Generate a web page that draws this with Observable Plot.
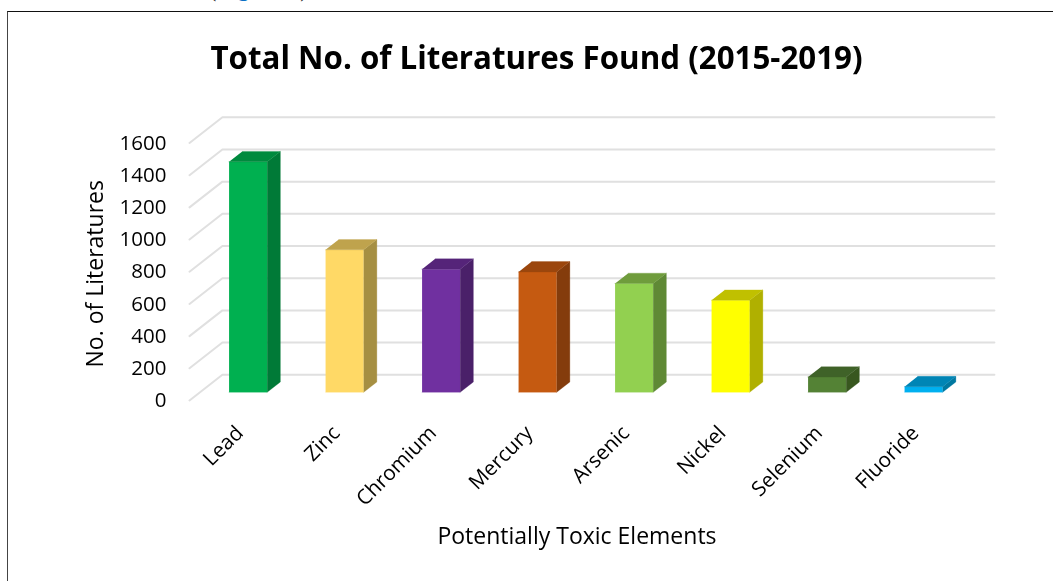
<!DOCTYPE html>
<html>
<head>
<meta charset="utf-8">
<script src="https://cdn.jsdelivr.net/npm/d3@7"></script>
<script src="https://cdn.jsdelivr.net/npm/@observablehq/plot@0.6"></script>
<style>
  html, body { margin: 0; padding: 0; background: #fff; width: 1053px; height: 581px; overflow: hidden; }
  #page { position: relative; width: 1053px; height: 581px; overflow: hidden; font-family: "Open Sans", sans-serif; color: #000; }
  #frame { position: absolute; left: 7px; top: 11px; width: 1100px; height: 700px; border-left: 1.5px solid #444; border-top: 1.5px solid #111; }
  .clipped { position: absolute; top: -27px; height: 30px; font: 25px/30px "Liberation Serif", serif; white-space: pre; color: #222; }
  .clipped span { color: #0b6fc4; }
  #title { position: relative; height: 88px; box-sizing: border-box; font: 700 31.3px/40px "Open Sans", sans-serif; text-align: center; width: 1073px; padding-top: 37px; white-space: nowrap; filter: blur(0.3px); }
  #caption { position: relative; height: 68px; line-height: 44px; font-size: 23px; text-align: center; width: 1154px; filter: blur(0.3px); }
  svg { display: block; position: relative; filter: blur(0.4px); }
</style>
</head>
<body>
<div id="page">
  <div id="frame"></div>
  <div class="clipped" style="left:44px">,</div>
  <div class="clipped" style="left:208px">(<span>Figure</span> 1)</div>
  <div id="title"></div>
  <div id="chart"></div>
  <div id="caption"></div>
</div>
<script>
const chartTitle = "Total No. of Literatures Found (2015-2019)";
const xTitle = "Potentially Toxic Elements";
const yTitle = "No. of Literatures";
const categories = ["Lead", "Zinc", "Chromium", "Mercury", "Arsenic", "Nickel", "Selenium", "Fluoride"];
const values = [1432, 885, 765, 748, 676, 572, 95, 35];
const yTicks = [0, 200, 400, 600, 800, 1000, 1200, 1400, 1600];
const frontColors = ["#00b050", "#ffd966", "#7030a0", "#c55a11", "#92d050", "#ffff00", "#548235", "#00b0f0"];
const sideColors = ["#007a37", "#a68f42", "#4a2069", "#843c0c", "#5f8935", "#b0b000", "#38571f", "#0078a0"];
const topColors = ["#008a3e", "#bfa34d", "#552479", "#9b460d", "#6f9c3c", "#c0c000", "#3f6228", "#0085b5"];

// Oblique projection of the 3D column chart, in data units
const depthX = 0.341;   // category slots per unit of depth
const depthY = 160;     // value units per unit of depth
const gapX = 0.301, barW = 0.395, zFront = 0.32, zBack = 0.72;
const pt = (slot, value, z) => ({x: slot + depthX * z, y: value + depthY * z});

const faces = [];
categories.forEach((c, i) => {
  const l = i + gapX, r = l + barW, v = values[i];
  const poly = (kind, color, corners) =>
    corners.forEach(([s, w, z]) => faces.push({id: c + kind, color, ...pt(s, w, z)}));
  poly("front", frontColors[i], [[l, 0, zFront], [r, 0, zFront], [r, v, zFront], [l, v, zFront]]);
  poly("side", sideColors[i], [[r, 0, zFront], [r, 0, zBack], [r, v, zBack], [r, v, zFront]]);
  poly("top", topColors[i], [[l, v, zFront], [r, v, zFront], [r, v, zBack], [l, v, zBack]]);
});

const grid = yTicks.flatMap(t => [
  {t, ...pt(0, t, 0)},
  {t, ...pt(0, t, 1)},
  {t, ...pt(categories.length, t, 1)}
]);

const labels = categories.map((name, i) => ({name, x: i + 0.5}));

document.getElementById("title").textContent = chartTitle;
document.getElementById("caption").textContent = xTitle;

const plot = Plot.plot({
  width: 1053,
  height: 425,
  marginLeft: 189,
  marginRight: 92,
  marginTop: 54.5,
  marginBottom: 113,
  style: {background: "transparent", fontFamily: "'Open Sans', sans-serif", overflow: "visible", color: "#000"},
  x: {domain: [0, categories.length], axis: null},
  y: {domain: [0, 1600]},
  color: {type: "identity"},
  marks: [
    Plot.line(grid, {x: "x", y: "y", z: "t", stroke: "#e0e0e0", strokeWidth: 2}),
    Plot.line(faces, {x: "x", y: "y", z: "id", fill: "color", stroke: "color", strokeWidth: 0.3}),
    Plot.axisY({
      ticks: yTicks, tickSize: 0, tickPadding: 23, fontSize: 20.5, color: "#000",
      tickFormat: "d", label: null
    }),
    Plot.text([yTitle], {
      frameAnchor: "left", textAnchor: "middle", text: d => d, rotate: -90, dx: -94, dy: 2, fontSize: 23, fill: "#000"
    }),
    Plot.text(labels, {
      x: "x", y: () => 0, text: "name", rotate: -45, textAnchor: "end",
      dy: 29, dx: 2, fontSize: 20.7, fill: "#000"
    })
  ]
});
document.getElementById("chart").appendChild(plot);
</script>
</body>
</html>
